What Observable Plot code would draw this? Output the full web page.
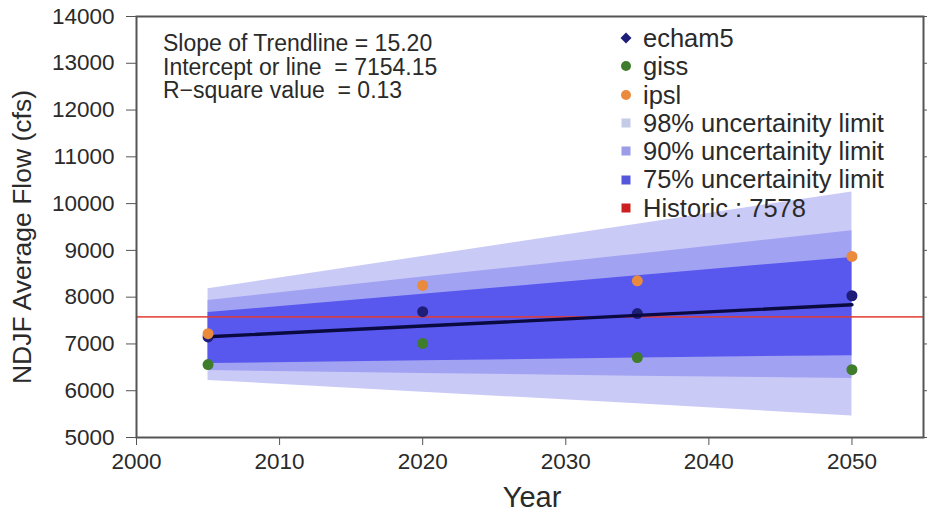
<!DOCTYPE html>
<html>
<head>
<meta charset="utf-8">
<script src="https://cdn.jsdelivr.net/npm/d3@7"></script>
<script src="https://cdn.jsdelivr.net/npm/@observablehq/plot@0.6"></script>
<style>
  html, body { margin: 0; padding: 0; background: #fff; }
  #wrap { position: relative; width: 927px; height: 514px; font-family: "Liberation Sans", Arial, Helvetica, sans-serif; color: #2a2a2a; }
  .ov { position: absolute; white-space: nowrap; }
  #stats { left: 163px; top: 32px; font-size: 23px; line-height: 23.5px; }
  #legend { left: 620px; top: 24px; font-size: 25.5px; }
  #legend .row { height: 28.3px; line-height: 28.3px; display: flex; align-items: center; }
  #legend .mk { width: 23px; display: inline-flex; justify-content: flex-start; }
  #ylab { left: 22px; top: 237px; font-size: 26.5px; transform: translate(-50%, -50%) rotate(-90deg); }
  #xlab { left: 532px; top: 497px; font-size: 29px; transform: translate(-50%, -50%); }
  #wrap svg text { font-size: 22.5px; fill: #2a2a2a; }
</style>
</head>
<body>
<div id="wrap"></div>
<script>
// ---- data ----
const years   = [2005, 2020, 2035, 2050];
const echam5  = [7150, 7690, 7650, 8030];
const giss    = [6560, 7010, 6710, 6450];
const ipsl    = [7220, 8250, 8350, 8870];
const lo98    = [6220, 5970, 5720, 5460];
const hi98    = [8180, 8870, 9560, 10250];
const lo90    = [6430, 6370, 6310, 6260];
const hi90    = [7930, 8430, 8920, 9420];
const lo75    = [6580, 6640, 6700, 6750];
const hi75    = [7670, 8060, 8460, 8850];
const historic = 7578;
const trendSlope = 15.20;
const trendIntercept = 7154.15;
const xTicks = [2000, 2010, 2020, 2030, 2040, 2050];
const yTicks = [5000, 6000, 7000, 8000, 9000, 10000, 11000, 12000, 13000, 14000];
const seriesNames = ["echam5", "giss", "ipsl"];
const seriesColors = ["#1e1e78", "#3f7d2c", "#ea8a3c"];
const bandNames = ["98% uncertainity limit", "90% uncertainity limit", "75% uncertainity limit"];
const bandColors = ["#cacaf7", "#a2a2f3", "#5858ef"];
const legendBandColors = ["#c4cbe6", "#9c9ce8", "#5656dc"];
const historicColor = "#e23a2e";
const statsLines = [
  "Slope of Trendline = 15.20",
  "Intercept or line  = 7154.15",
  "R\u2212square value  = 0.13"
];

// ---- tables ----
const bands = years.map((yr, i) => ({year: yr, lo98: lo98[i], hi98: hi98[i], lo90: lo90[i], hi90: hi90[i], lo75: lo75[i], hi75: hi75[i]}));
const points = [];
[echam5, giss, ipsl].forEach((arr, s) => arr.forEach((v, i) => points.push({year: years[i], value: v, series: seriesNames[s]})));
const trend = years.map(yr => ({year: yr, value: trendIntercept + trendSlope * (yr - 2005)}));

const chart = Plot.plot({
  width: 927,
  height: 514,
  marginLeft: 136,
  marginRight: 4,
  marginTop: 16,
  marginBottom: 77,
  style: {fontFamily: '"Liberation Sans", Arial, sans-serif', fontSize: "22.5px", color: "#2a2a2a", background: "transparent"},
  x: {domain: [2000, 2055], ticks: xTicks, tickFormat: "d"},
  y: {domain: [5000, 14000], ticks: yTicks, tickFormat: "d"},
  color: {domain: seriesNames, range: seriesColors},
  marks: [
    Plot.areaY(bands, {x: "year", y1: "lo98", y2: "hi98", fill: bandColors[0]}),
    Plot.areaY(bands, {x: "year", y1: "lo90", y2: "hi90", fill: bandColors[1]}),
    Plot.areaY(bands, {x: "year", y1: "lo75", y2: "hi75", fill: bandColors[2]}),
    Plot.ruleY([historic], {stroke: historicColor, strokeWidth: 1.6, strokeOpacity: 0.85}),
    Plot.dot(points.filter(d => d.series === "echam5"), {x: "year", y: "value", fill: "series", r: 5.5}),
    Plot.line(trend, {x: "year", y: "value", stroke: "#0a0a40", strokeWidth: 3.4}),
    Plot.dot(points.filter(d => d.series !== "echam5"), {x: "year", y: "value", fill: "series", r: 5.5}),
    Plot.frame({stroke: "#555", strokeWidth: 2}),
    Plot.axisX({ticks: xTicks, tickFormat: "d", tickSize: 8, tickPadding: 8, label: null, stroke: "#555"}),
    Plot.axisY({ticks: yTicks, tickFormat: "d", tickSize: 10, tickPadding: 12, label: null, stroke: "#555"}),
    Plot.axisY({anchor: "right", ticks: yTicks, tickFormat: () => "", tickSize: 3, label: null, stroke: "#555"})
  ]
});

const wrap = document.getElementById("wrap");
wrap.appendChild(chart);

// stats text
const stats = document.createElement("div");
stats.className = "ov"; stats.id = "stats";
stats.innerHTML = statsLines.map(s => `<div style="white-space:pre">${s}</div>`).join("");
wrap.appendChild(stats);

// legend
const legend = document.createElement("div");
legend.className = "ov"; legend.id = "legend";
const mkDot = (c, diamond) => diamond
  ? `<svg width="12" height="12"><path d="M6 0.5L11.5 6L6 11.5L0.5 6Z" fill="${c}"/></svg>`
  : `<svg width="12" height="12"><circle cx="6" cy="6" r="5" fill="${c}"/></svg>`;
const mkSq = c => `<svg width="12" height="12"><rect x="1.5" y="1.5" width="9" height="9" fill="${c}"/></svg>`;
let rows = "";
seriesNames.forEach((n, i) => rows += `<div class="row"><span class="mk">${mkDot(seriesColors[i], i === 0)}</span><span>${n}</span></div>`);
bandNames.forEach((n, i) => rows += `<div class="row"><span class="mk">${mkSq(legendBandColors[i])}</span><span>${n}</span></div>`);
rows += `<div class="row"><span class="mk">${mkSq("#cc2020")}</span><span>Historic : ${historic}</span></div>`;
legend.innerHTML = rows;
wrap.appendChild(legend);

// axis titles
const yl = document.createElement("div");
yl.className = "ov"; yl.id = "ylab"; yl.textContent = "NDJF Average Flow (cfs)";
wrap.appendChild(yl);
const xl = document.createElement("div");
xl.className = "ov"; xl.id = "xlab"; xl.textContent = "Year";
wrap.appendChild(xl);
</script>
</body>
</html>
